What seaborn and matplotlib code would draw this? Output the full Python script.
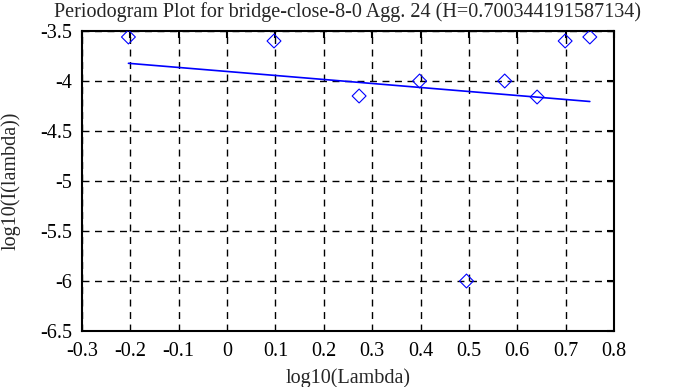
import numpy as np
import pandas as pd
import matplotlib
matplotlib.use('Agg')
import matplotlib.pyplot as plt
import seaborn as sns

# periodogram points (log10 of frequency, log10 of power)
log_lambda = [-0.204, 0.097, 0.273, 0.398, 0.495, 0.574, 0.641, 0.699, 0.750]
log_power = [-3.56, -3.60, -4.15, -4.00, -6.00, -4.00, -4.16, -3.60, -3.56]

# fitted line end points
fit_x = [-0.204, 0.750]
fit_y = [-3.823, -4.205]

title = 'Periodogram Plot for bridge-close-8-0 Agg. 24 (H=0.700344191587134)'

sns.set_style('white')
plt.rcParams['font.family'] = ['Liberation Serif', 'DejaVu Serif']
fs = 14.5

pts = pd.DataFrame({'x': log_lambda, 'y': log_power})
fit = pd.DataFrame({'x': fit_x, 'y': fit_y})

fig = plt.figure(figsize=(6.88, 3.87), dpi=100)
ax = fig.add_axes([82 / 688, 1 - 331 / 387, 532 / 688, 300 / 387])

sns.scatterplot(data=pts, x='x', y='y', marker='D', s=50, facecolor='none',
                edgecolor='#0000ff', linewidth=0.8, ax=ax, zorder=3)
sns.lineplot(data=fit, x='x', y='y', color='#0000ff', linewidth=1.2, ax=ax, zorder=3)

ax.set_xlim(-0.3, 0.8)
ax.set_ylim(-6.5, -3.5)
ax.set_xticks(np.arange(-0.3, 0.81, 0.1))
ax.set_xticklabels(['-0.3', '-0.2', '-0.1', '0', '0.1', '0.2', '0.3', '0.4',
                    '0.5', '0.6', '0.7', '0.8'])
ax.set_yticks(np.arange(-6.5, -3.49, 0.5))
ax.set_yticklabels(['-6.5', '-6', '-5.5', '-5', '-4.5', '-4', '-3.5'])
ax.tick_params(direction='in', length=5, width=1.5, top=True, right=True,
               colors='black', labelsize=fs)
ax.tick_params(axis='x', pad=8)
ax.tick_params(axis='y', pad=7)
ax.grid(True, color='black', linestyle=(0, (5, 4)), linewidth=1)
for s in ax.spines.values():
    s.set_visible(True)
    s.set_color('black')
    s.set_linewidth(1.5)

ax.set_xlabel('log10(Lambda)', fontsize=fs, labelpad=5)
ax.set_ylabel('log10(I(lambda))', fontsize=fs, labelpad=14)
ax.set_title(title, fontsize=fs, pad=10)

fig.savefig('out.png', dpi=100)
